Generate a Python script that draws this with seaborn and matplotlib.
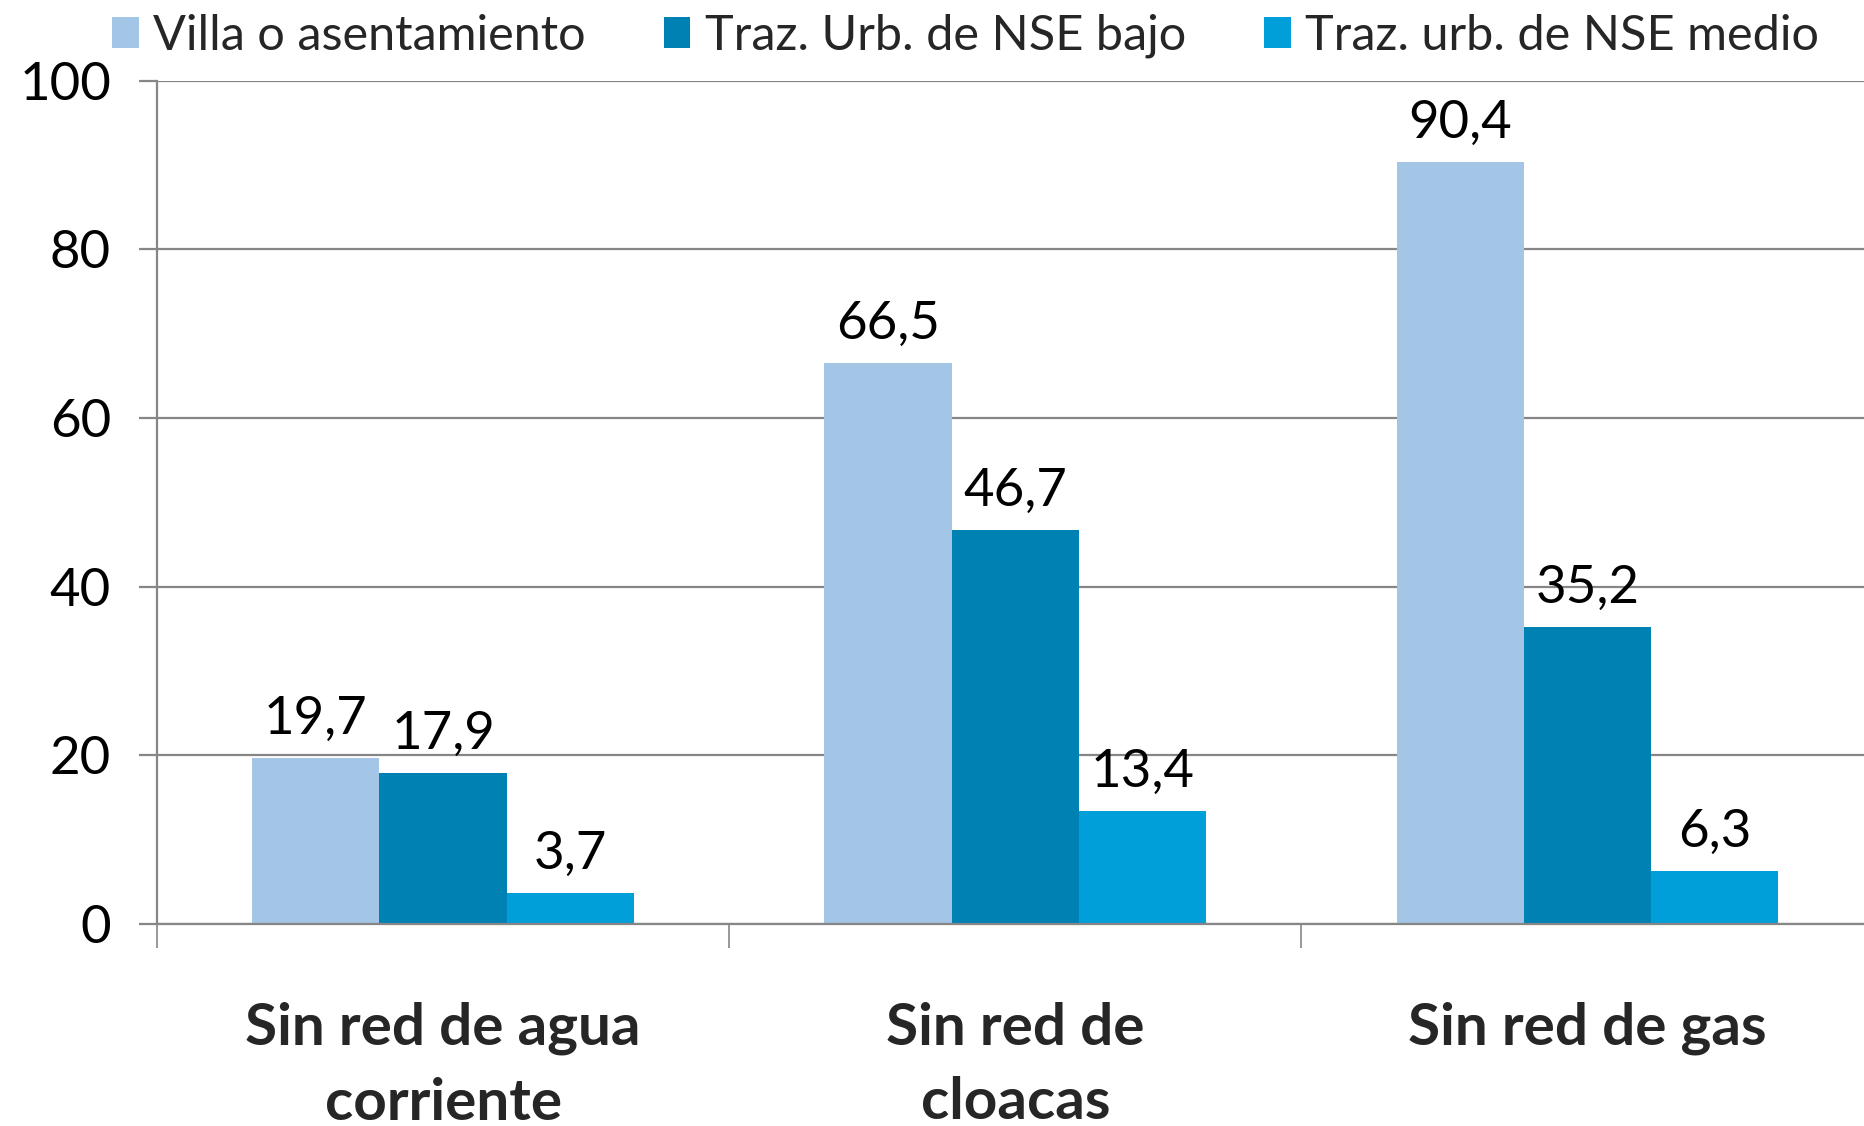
import numpy as np
import pandas as pd
import matplotlib.pyplot as plt
import seaborn as sns

# Data
categories = ["Sin red de agua\ncorriente", "Sin red de\ncloacas", "Sin red de gas"]
series = ["Villa o asentamiento", "Traz. Urb. de NSE bajo", "Traz. urb. de NSE medio"]
villa = [19.7, 66.5, 90.4]
nse_bajo = [17.9, 46.7, 35.2]
nse_medio = [3.7, 13.4, 6.3]
colors = ["#A3C6E6", "#0081B4", "#009FD9"]

rows = []
for name, vals in zip(series, [villa, nse_bajo, nse_medio]):
    for cat, v in zip(categories, vals):
        rows.append({"cat": cat, "serie": name, "valor": v})
df = pd.DataFrame(rows)

sns.set_theme(style="white")
plt.rcParams['font.family'] = ['Lato', 'DejaVu Sans']

fig = plt.figure(figsize=(18.64, 11.26), dpi=100)
ax = fig.add_axes([0.0842, 0.1795, 0.921, 0.7487])

sns.barplot(data=df, x="cat", y="valor", hue="serie", order=categories,
            hue_order=series, palette=colors, width=0.667, gap=0,
            saturation=1, edgecolor="none", linewidth=0, ax=ax, legend=True)

for cont, vals in zip(ax.containers, [villa, nse_bajo, nse_medio]):
    ax.bar_label(cont, labels=[f"{v:.1f}".replace(".", ",") for v in vals],
                 padding=11, fontsize=38, color="black")

gray = "#868686"
ax.set_xlim(-0.5, 2.5)
ax.set_ylim(0, 100)
ax.set_yticks(np.arange(0, 101, 20))
ax.yaxis.grid(True, color=gray, linewidth=1.6)
ax.set_axisbelow(True)
ax.set_xlabel("")
ax.set_ylabel("")

for s in ["top", "right"]:
    ax.spines[s].set_visible(False)
for s in ["left", "bottom"]:
    ax.spines[s].set_color(gray)
    ax.spines[s].set_linewidth(1.6)

ax.tick_params(axis="y", direction="out", length=13, width=1.6, color=gray,
               pad=20, labelsize=38, labelcolor="black", left=True)
ax.tick_params(axis="x", which="major", length=0, pad=56, labelsize=42)
ax.set_xticks([-0.5, 0.5, 1.5, 2.5], minor=True)
ax.tick_params(axis="x", which="minor", direction="out", length=17, width=1.2,
               color=gray, bottom=True)
for lab in ax.get_xticklabels():
    lab.set_fontweight("bold")
    lab.set_linespacing(1.5)

handles, labels = ax.get_legend_handles_labels()
ax.legend_.remove()
fig.legend(handles, labels, loc="center", bbox_to_anchor=(0.518, 0.968),
           ncol=3, frameon=False, fontsize=35, handlelength=0.55,
           handleheight=0.62, handletextpad=0.3, columnspacing=1.6)

fig.savefig("out.png", dpi=100)
